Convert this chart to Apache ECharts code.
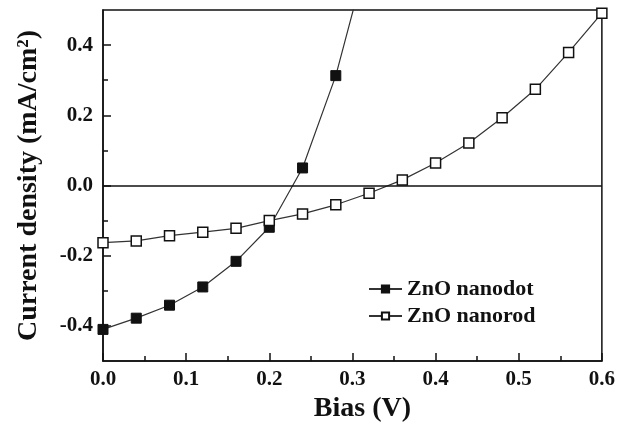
<!DOCTYPE html>
<html>
<head>
<meta charset="utf-8">
<script src="https://cdn.jsdelivr.net/npm/echarts@6/dist/echarts.min.js"></script>
<style>
  html, body { margin: 0; padding: 0; background: #fff; }
  #chart { width: 618px; height: 430px; }
</style>
</head>
<body>
<div id="chart"></div>
<script>
// Bias sweep (V)
const biasDot = [0.00, 0.04, 0.08, 0.12, 0.16, 0.20, 0.24, 0.28, 0.32];
const currentDot = [-0.410, -0.378, -0.341, -0.289, -0.216, -0.119, 0.050, 0.313, 0.670];

const biasRod = [0.00, 0.04, 0.08, 0.12, 0.16, 0.20, 0.24, 0.28, 0.32, 0.36, 0.40, 0.44, 0.48, 0.52, 0.56, 0.60];
const currentRod = [-0.163, -0.158, -0.143, -0.133, -0.122, -0.100, -0.081, -0.055, -0.022, 0.016, 0.064, 0.121, 0.193, 0.274, 0.379, 0.491];

const yMajorTicks = [-0.4, -0.2, 0.0, 0.2, 0.4];
const yMinorTicks = [-0.3, -0.1, 0.1, 0.3];

const seriesNames = ['ZnO nanodot', 'ZnO nanorod'];

const FONT = '"Liberation Serif", "Times New Roman", serif';
const INK = '#111';

const pairs = (xs, ys) => xs.map((x, i) => [x, ys[i]]);

const chart = echarts.init(document.getElementById('chart'), null, { renderer: 'canvas' });

chart.setOption({
  animation: false,
  backgroundColor: '#fff',
  grid: {
    left: 103, right: 13, top: 10, bottom: 69,
    show: true, borderColor: INK, borderWidth: 1.5, backgroundColor: 'transparent'
  },
  legend: {
    orient: 'vertical',
    left: 363, top: 273,
    itemWidth: 33, itemHeight: 9, itemGap: 5,
    data: seriesNames,
    textStyle: { fontFamily: FONT, fontWeight: 'bold', fontSize: 22, color: INK }
  },
  xAxis: {
    type: 'value', min: 0, max: 0.6, interval: 0.1,
    name: 'Bias (V)', nameLocation: 'middle', nameGap: 34,
    nameTextStyle: { fontFamily: FONT, fontWeight: 'bold', fontSize: 28, color: INK, padding: [0, 0, 0, 20] },
    axisLine: { show: true, onZero: false, lineStyle: { color: INK, width: 1.5 } },
    axisTick: { show: true, inside: true, length: 8, lineStyle: { color: INK, width: 1.5 } },
    minorTick: { show: true, splitNumber: 2, length: 5, lineStyle: { color: INK, width: 1.5 } },
    axisLabel: {
      margin: 8, fontFamily: FONT, fontWeight: 'bold', fontSize: 21, color: INK,
      formatter: v => v.toFixed(1)
    },
    splitLine: { show: false }
  },
  yAxis: [
    {
      type: 'value', min: -0.5, max: 0.5, position: 'left',
      name: 'Current density (mA/cm²)', nameLocation: 'middle', nameGap: 60,
      nameTextStyle: { fontFamily: FONT, fontWeight: 'bold', fontSize: 28, color: INK },
      axisLine: { show: true, onZero: false, lineStyle: { color: INK, width: 1.5 } },
      axisTick: { show: true, inside: true, length: 8, customValues: yMajorTicks, lineStyle: { color: INK, width: 1.5 } },
      axisLabel: {
        margin: 10, fontFamily: FONT, fontWeight: 'bold', fontSize: 21, color: INK,
        customValues: yMajorTicks,
        formatter: v => v.toFixed(1)
      },
      splitLine: { show: false }
    },
    {
      type: 'value', min: -0.5, max: 0.5, position: 'left',
      axisLine: { show: false, onZero: false },
      axisTick: { show: true, inside: true, length: 5, customValues: yMinorTicks, lineStyle: { color: INK, width: 1.5 } },
      axisLabel: { show: false },
      splitLine: { show: false }
    }
  ],
  series: [
    {
      name: seriesNames[0],
      type: 'line',
      data: pairs(biasDot, currentDot),
      symbol: 'rect', symbolSize: 10,
      lineStyle: { color: '#333', width: 1.2 },
      itemStyle: { color: INK, borderColor: INK, borderWidth: 1 },
      z: 3,
      markLine: {
        silent: true, symbol: 'none', label: { show: false },
        lineStyle: { color: INK, width: 1.5, type: 'solid' },
        data: [{ yAxis: 0 }]
      }
    },
    {
      name: seriesNames[1],
      type: 'line',
      data: pairs(biasRod, currentRod),
      symbol: 'rect', symbolSize: 10,
      lineStyle: { color: '#333', width: 1.2 },
      itemStyle: { color: '#fff', borderColor: INK, borderWidth: 1.5 },
      z: 4
    }
  ]
});
</script>
</body>
</html>
